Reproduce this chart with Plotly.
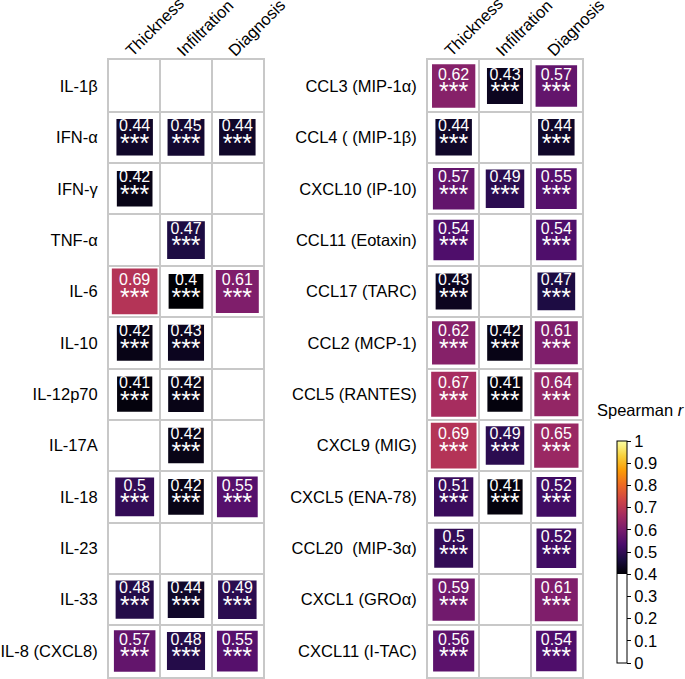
import math
import plotly.graph_objects as go

columns = ["Thickness", "Infiltration", "Diagnosis"]

left_rows = ["IL-1β", "IFN-α", "IFN-γ", "TNF-α", "IL-6", "IL-10", "IL-12p70",
             "IL-17A", "IL-18", "IL-23", "IL-33", "IL-8 (CXCL8)"]
left_thickness = [None, 0.44, 0.42, None, 0.69, 0.42, 0.41, None, 0.5, None, 0.48, 0.57]
left_infiltration = [None, 0.45, None, 0.47, 0.4, 0.43, 0.42, 0.42, 0.42, None, 0.44, 0.48]
left_diagnosis = [None, 0.44, None, None, 0.61, None, None, None, 0.55, None, 0.49, 0.55]

right_rows = ["CCL3 (MIP-1α)", "CCL4 ( (MIP-1β)", "CXCL10 (IP-10)", "CCL11 (Eotaxin)",
              "CCL17 (TARC)", "CCL2 (MCP-1)", "CCL5 (RANTES)", "CXCL9 (MIG)",
              "CXCL5 (ENA-78)", "CCL20  (MIP-3α)", "CXCL1 (GROα)", "CXCL11 (I-TAC)"]
right_thickness = [0.62, 0.44, 0.57, 0.54, 0.43, 0.62, 0.67, 0.69, 0.51, 0.5, 0.59, 0.56]
right_infiltration = [0.43, None, 0.49, None, None, 0.42, 0.41, 0.49, 0.41, None, None, None]
right_diagnosis = [0.57, 0.44, 0.55, 0.54, 0.47, 0.61, 0.64, 0.65, 0.52, 0.52, 0.61, 0.54]

significance = "***"
colorbar_title = "Spearman <i>r</i>"

inferno = ['#000004', '#1b0c41', '#4a0c6b', '#781c6d', '#a52c60',
           '#cf4446', '#ed6925', '#fb9b06', '#f7d13d', '#fcffa4']
colorscale = [[0.0, "white"], [0.4, "white"]] + \
    [[0.4 + 0.6 * i / (len(inferno) - 1), c] for i, c in enumerate(inferno)]

W, H = 685, 679
FONT = "Liberation Sans, Arial, sans-serif"
GRID = "#c8c8c8"

fig = go.Figure()


def add_panel(rows, series, xa, ya, show_cbar):
    xs, ys, vals = [], [], []
    for ci, col in enumerate(series):
        for ri, v in enumerate(col):
            if v is None:
                continue
            xs.append(ci)
            ys.append(ri)
            vals.append(v)
    sizes = [55 * math.sqrt(v) for v in vals]
    marker = dict(symbol="square", size=sizes, color=vals, colorscale=colorscale,
                  cmin=0, cmax=1, opacity=1, line=dict(width=0))
    if show_cbar:
        marker.update(showscale=True, colorbar=dict(
            x=617 / W, xanchor="left", xpad=0, ypad=0,
            y=(H - 552) / H, yanchor="middle",
            thickness=10, lenmode="pixels", len=222,
            outlinewidth=1, outlinecolor="black",
            ticks="outside", ticklen=4, tickcolor="black",
            tickvals=[i / 10 for i in range(11)],
            ticktext=["0"] + [f"0.{i}" for i in range(1, 10)] + ["1"],
            tickfont=dict(family=FONT, size=16.5, color="black")))
    else:
        marker.update(showscale=False)
    labels = [f"{v}<br><span style='font-size:25px'>{significance}</span>" for v in vals]
    fig.add_trace(go.Scatter(x=xs, y=ys, mode="markers+text", marker=marker,
                             text=labels, textposition="middle center",
                             textfont=dict(family=FONT, size=16, color="white"),
                             xaxis=xa, yaxis=ya, hoverinfo="skip", showlegend=False))


add_panel(left_rows, [left_thickness, left_infiltration, left_diagnosis], "x", "y", True)
add_panel(right_rows, [right_thickness, right_infiltration, right_diagnosis], "x2", "y2", False)


def xaxis(domain, anchor):
    return dict(domain=domain, anchor=anchor, range=[-0.5, 2.5], side="top",
                tickmode="array", tickvals=[0, 1, 2], ticktext=columns,
                tickangle=-45, ticks="", showgrid=False, zeroline=False,
                automargin=False, ticklabelstandoff=-8, ticklabelshift=-8,
                showline=True, mirror=True, linecolor=GRID, linewidth=2,
                tickfont=dict(family=FONT, size=16.5, color="black"),
                minor=dict(tick0=0.5, dtick=1, showgrid=True, gridcolor=GRID,
                           gridwidth=2, ticks=""),
                fixedrange=True)


def yaxis(domain, anchor, rows):
    return dict(domain=domain, anchor=anchor, range=[11.5, -0.5],
                tickmode="array", tickvals=list(range(len(rows))), ticktext=rows,
                ticks="", showgrid=False, zeroline=False, ticklabelstandoff=6,
                automargin=False,
                showline=True, mirror=True, linecolor=GRID, linewidth=2,
                tickfont=dict(family=FONT, size=16.5, color="black"),
                minor=dict(tick0=0.5, dtick=1, showgrid=True, gridcolor=GRID,
                           gridwidth=2, ticks=""),
                fixedrange=True)


ydom = [(H - 676.7) / H, (H - 60.3) / H]
fig.update_layout(
    width=W, height=H,
    margin=dict(l=0, r=0, t=0, b=0),
    paper_bgcolor="white", plot_bgcolor="white",
    xaxis=xaxis([109 / W, 263 / W], "y"),
    yaxis=yaxis(ydom, "x", left_rows),
    xaxis2=xaxis([428 / W, 582 / W], "y2"),
    yaxis2=yaxis(ydom, "x2", right_rows),
    annotations=[dict(text=colorbar_title, xref="paper", yref="paper",
                      x=641 / W, y=(H - 410) / H, xanchor="center", yanchor="middle",
                      showarrow=False,
                      font=dict(family=FONT, size=16.5, color="black"))],
)

fig.write_html("out.html", config={"displayModeBar": False},
               post_script="document.body.style.margin='0';document.body.style.overflow='hidden';")
